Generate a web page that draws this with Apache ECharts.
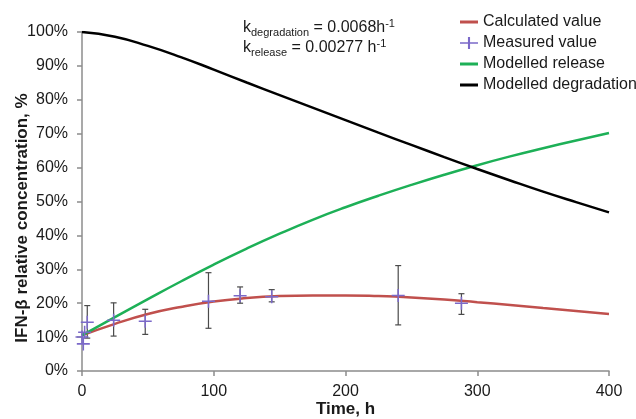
<!DOCTYPE html>
<html>
<head>
<meta charset="utf-8">
<script src="https://cdn.jsdelivr.net/npm/echarts@6/dist/echarts.min.js"></script>
<style>
html,body{margin:0;padding:0;background:#fff;}
#chart{width:636px;height:419px;}
</style>
</head>
<body>
<div id="chart"></div>
<script>
// ---- data ----
const modelTimes = [0, 25, 50, 75, 100, 125, 150, 175, 200, 225, 250, 275, 300, 325, 350, 375, 400];
const calculatedValue = [10.5, 13.9, 16.8, 18.9, 20.5, 21.5, 22.1, 22.3, 22.3, 22.1, 21.7, 21.1, 20.3, 19.5, 18.6, 17.7, 16.8];
const modelledRelease = [10.5, 15.9, 21.2, 26.4, 31.4, 36.1, 40.5, 44.6, 48.3, 51.7, 54.9, 57.9, 60.7, 63.3, 65.7, 68.0, 70.2];
const modelledDegradation = [100, 98.6, 95.9, 92.6, 88.9, 85.1, 81.4, 77.7, 74.0, 70.3, 66.7, 63.1, 59.6, 56.2, 52.9, 49.8, 46.8];
const measuredTime = [0, 1, 2, 4, 24, 48, 96, 120, 144, 240, 288];
const measuredValue = [10.0, 8.0, 11.4, 14.4, 15.0, 14.7, 20.6, 22.2, 21.9, 22.3, 20.0];
const errorLow = [null, null, null, 9.7, 10.3, 10.8, 12.6, 20.0, 20.4, 13.6, 16.7];
const errorHigh = [null, null, null, 19.3, 20.1, 18.2, 29.0, 24.8, 24.0, 31.1, 22.8];
const xTicks = [0, 100, 200, 300, 400];
const yTicks = [0, 10, 20, 30, 40, 50, 60, 70, 80, 90, 100];
const seriesNames = ['Calculated value', 'Measured value', 'Modelled release', 'Modelled degradation'];
const yTitle = 'IFN-β relative concentration, %';
const xTitle = 'Time, h';

const FONT = 'Liberation Sans, Arial, sans-serif';
const plusPath = 'path://M0,5.3H12V6.7H0Z M5.3,0H6.7V12H5.3Z';
const linePath = 'path://M0,0H0.01V0.01H0Z M0,4.6H20V7.4H0Z M19.99,11.99H20V12H19.99Z';

const zip = (xs, ys) => xs.map((x, i) => [x, ys[i]]);
const errData = measuredTime.map((t, i) => [t, errorLow[i], errorHigh[i]]).filter(d => d[1] != null);

const chart = echarts.init(document.getElementById('chart'), null, {renderer: 'canvas'});
chart.setOption({
  animation: false,
  backgroundColor: '#fff',
  textStyle: {fontFamily: FONT},
  grid: {left: 82, right: 27, top: 32, bottom: 48, containLabel: false, outerBoundsMode: 'none'},
  legend: {
    orient: 'vertical',
    left: 455,
    top: 9,
    itemWidth: 18,
    itemHeight: 12,
    itemGap: 5,
    symbolKeepAspect: false,
    textStyle: {fontFamily: FONT, fontSize: 16, color: '#1a1a1a'},
    data: [
      {name: seriesNames[0], icon: linePath},
      {name: seriesNames[1], icon: plusPath},
      {name: seriesNames[2], icon: linePath},
      {name: seriesNames[3], icon: linePath}
    ]
  },
  xAxis: {
    type: 'value',
    min: xTicks[0],
    max: xTicks[xTicks.length - 1],
    interval: 100,
    name: xTitle,
    nameLocation: 'middle',
    nameGap: 30,
    nameMoveOverlap: false,
    nameTextStyle: {fontFamily: FONT, fontSize: 17, fontWeight: 'bold', color: '#1a1a1a'},
    axisLine: {show: true, lineStyle: {color: '#8c8c8c', width: 1.5}},
    axisTick: {show: true, inside: false, length: 5, lineStyle: {color: '#8c8c8c', width: 1.5}},
    axisLabel: {fontFamily: FONT, fontSize: 16, color: '#1a1a1a', margin: 13},
    splitLine: {show: false}
  },
  yAxis: {
    type: 'value',
    min: yTicks[0],
    max: yTicks[yTicks.length - 1],
    interval: 10,
    axisLine: {show: true, lineStyle: {color: '#8c8c8c', width: 1.5}},
    axisTick: {show: true, inside: false, length: 5, lineStyle: {color: '#8c8c8c', width: 1.5}},
    axisLabel: {fontFamily: FONT, fontSize: 16, color: '#1a1a1a', margin: 14, formatter: '{value}%'},
    splitLine: {show: false}
  },
  graphic: [{
    type: 'text',
    left: 243,
    top: 18,
    style: {
      text: '{k|k}{sub|degradation}{k| = 0.0068h}{sup|-1}\n{k|k}{sub|release}{k| = 0.00277 h}{sup|-1}',
      fontFamily: FONT,
      fill: '#1a1a1a',
      rich: {
        k: {fontFamily: FONT, fontSize: 16, lineHeight: 20, color: '#1a1a1a'},
        sub: {fontFamily: FONT, fontSize: 11, lineHeight: 8, color: '#1a1a1a', verticalAlign: 'bottom'},
        sup: {fontFamily: FONT, fontSize: 11, lineHeight: 16, color: '#1a1a1a', verticalAlign: 'top'}
      }
    }
  }, {
    type: 'text',
    x: 22,
    y: 218,
    rotation: Math.PI / 2,
    style: {
      text: yTitle,
      fontFamily: FONT,
      fontSize: 17,
      fontWeight: 'bold',
      fill: '#1a1a1a',
      align: 'center',
      verticalAlign: 'middle'
    }
  }],
  series: [
    {
      name: 'errorbars',
      type: 'custom',
      z: 3,
      data: errData,
      renderItem: function (params, api) {
        const x = api.value(0);
        const lo = api.coord([x, api.value(1)]);
        const hi = api.coord([x, api.value(2)]);
        const cap = 3;
        const st = {stroke: '#4a4a4a', lineWidth: 1.2};
        return {
          type: 'group',
          children: [
            {type: 'line', shape: {x1: lo[0], y1: lo[1], x2: hi[0], y2: hi[1]}, style: st},
            {type: 'line', shape: {x1: lo[0] - cap, y1: lo[1], x2: lo[0] + cap, y2: lo[1]}, style: st},
            {type: 'line', shape: {x1: hi[0] - cap, y1: hi[1], x2: hi[0] + cap, y2: hi[1]}, style: st}
          ]
        };
      },
      silent: true
    },
    {
      name: seriesNames[0],
      type: 'line',
      data: zip(modelTimes, calculatedValue),
      smooth: true,
      symbol: 'none',
      z: 4,
      lineStyle: {color: '#c0504d', width: 2.5},
      itemStyle: {color: '#c0504d'}
    },
    {
      name: seriesNames[1],
      type: 'scatter',
      data: zip(measuredTime, measuredValue),
      symbol: plusPath,
      symbolSize: 13,
      z: 6,
      itemStyle: {color: '#7b69c9', opacity: 1}
    },
    {
      name: seriesNames[2],
      type: 'line',
      data: zip(modelTimes, modelledRelease),
      smooth: true,
      symbol: 'none',
      z: 4,
      lineStyle: {color: '#1db057', width: 2.5},
      itemStyle: {color: '#1db057'}
    },
    {
      name: seriesNames[3],
      type: 'line',
      data: zip(modelTimes, modelledDegradation),
      smooth: true,
      symbol: 'none',
      z: 4,
      lineStyle: {color: '#000000', width: 2.5},
      itemStyle: {color: '#000000'}
    }
  ]
});
</script>
</body>
</html>
